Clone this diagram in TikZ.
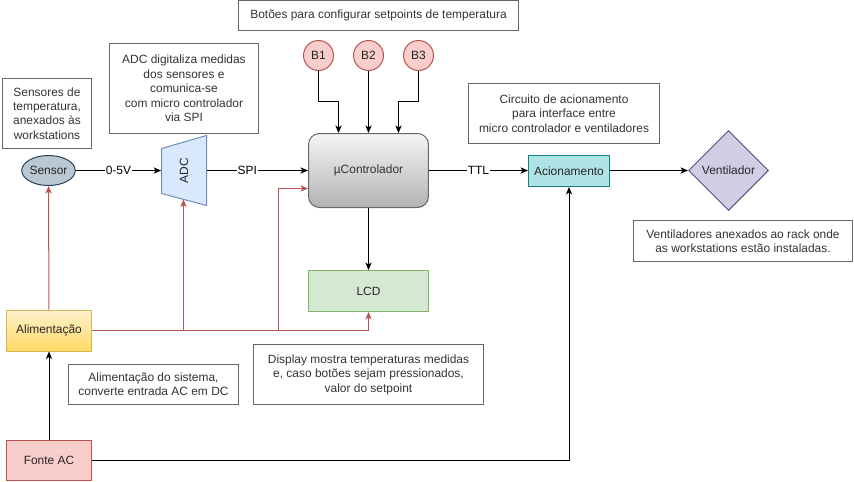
\documentclass[tikz,border=0pt]{standalone}
\usepackage{fontspec}
\setmainfont{Liberation Sans}
\usepackage{graphicx}
\usetikzlibrary{arrows.meta,positioning,calc,shapes.geometric}
\definecolor{notegray}{HTML}{666666}
\definecolor{notetext}{HTML}{333333}
\definecolor{redline}{HTML}{B85450}
\definecolor{redfill}{HTML}{F8CECC}
\definecolor{sensfill}{HTML}{BAC8D3}
\definecolor{sensline}{HTML}{23445D}
\definecolor{adcfill}{HTML}{DAE8FC}
\definecolor{adcline}{HTML}{6C8EBF}
\definecolor{acfill}{HTML}{B0E3E6}
\definecolor{acline}{HTML}{0E8088}
\definecolor{ventfill}{HTML}{D0CEE2}
\definecolor{ventline}{HTML}{56517E}
\definecolor{lcdfill}{HTML}{D5E8D4}
\definecolor{lcdline}{HTML}{82B366}
\definecolor{alimtop}{HTML}{FFF2CC}
\definecolor{alimbot}{HTML}{FFD966}
\definecolor{alimline}{HTML}{D6B656}
\tikzset{
every node/.style={font=\fontsize{6.8}{8.2}\selectfont, inner sep=0pt}, % drawio 12px text
note/.style={draw=notegray, fill=white, text=notetext, align=center, line width=0.57pt},
block/.style={draw, line width=0.57pt, align=center, text=black!85},
wire/.style={-{Stealth[length=1.5mm,width=1.25mm,inset=0.4mm]}, line width=0.57pt},
power/.style={wire, draw=redline},
lbl/.style={fill=white, inner sep=0.5pt},
}
\begin{document}
\begin{tikzpicture}[x=0.02cm,y=-0.02cm]
   \useasboundingbox (-0.5,-0.5) rectangle (853.5,480.5);
   % notes
   \node[note, minimum width=5.6cm, minimum height=0.6cm] (n_btn) at (378,15) {Botões para configurar setpoints de temperatura};
   \node[note, minimum width=1.78cm, minimum height=1.4cm] (n_sens) at (46.5,113) {Sensores de\\temperatura,\\anexados às\\workstations};
   \node[note, minimum width=2.98cm, minimum height=1.8cm] (n_adc) at (183.5,88) {ADC digitaliza medidas\\dos sensores e\\comunica-se\\com micro controlador\\via SPI};
   \node[note, minimum width=3.82cm, minimum height=1.2cm] (n_ac) at (563.5,113) {Circuito de acionamento\\para interface entre\\micro controlador e ventiladores};
   \node[note, minimum width=4.38cm, minimum height=0.82cm] (n_vent) at (742.5,240.5) {Ventiladores anexados ao rack onde\\as workstations estão instaladas.};
   \node[note, minimum width=3.4cm, minimum height=0.8cm] (n_alim) at (153,384) {Alimentação do sistema,\\converte entrada AC em DC};
   \node[note, minimum width=4.6cm, minimum height=1.2cm] (n_lcd) at (368,374) {Display mostra temperaturas medidas\\e, caso botões sejam pressionados,\\valor do setpoint};
   % blocks
   \node[block, ellipse, draw=sensline, fill=sensfill, minimum width=0.96cm, minimum height=0.6cm] (sensor) at (48,170) {Sensor};
   \draw[line width=0.57pt, draw=adcline, fill=adcfill] (161,148) -- (206,135) -- (206,205) -- (161,193) -- cycle;
   \node[text=black!85, minimum width=0.9cm, minimum height=1.4cm] (adc) at (183.5,170) {\rotatebox{90}{ADC}};
   \coordinate (adcfoot) at (183,199);
   \node[block, draw=notegray, text=notetext, rounded corners=0.22cm, top color=black!4, bottom color=black!30, minimum width=2.4cm, minimum height=1.48cm] (uc) at (368,170) {µControlador};
   \foreach \i/\x in {1/318,2/368,3/418}
      \node[block, circle, draw=redline, fill=redfill, minimum size=0.6cm] (b\i) at (\x,55) {B\i};
   \node[block, draw=acline, fill=acfill, minimum width=1.62cm, minimum height=0.62cm] (acion) at (568.5,170.5) {Acionamento};
   \node[block, diamond, draw=ventline, fill=ventfill, minimum width=1.6cm, minimum height=1.6cm] (vent) at (728,170) {Ventilador};
   \node[block, draw=lcdline, fill=lcdfill, minimum width=2.4cm, minimum height=0.82cm] (lcd) at (368,290.5) {LCD};
   \node[block, draw=alimline, top color=alimtop, bottom color=alimbot, minimum width=1.7cm, minimum height=0.82cm] (alim) at (48.5,330) {Alimentação};
   \node[block, draw=redline, fill=redfill, minimum width=1.7cm, minimum height=0.8cm] (fonte) at (48.5,460) {Fonte AC};
   \coordinate (uctap) at ([yshift=-0.36cm]uc.west);
   \coordinate (tap_adc) at (adcfoot |- alim.east);
   \coordinate (tap_uc) at ([xshift=3.74cm]alim.east);
   % signals
   \draw[wire] (sensor) -- node[lbl] {0-5V} (adc.west);
   \draw[wire] (adc.east) -- node[lbl, pos=0.4] {SPI} (uc.west);
   \draw[wire] (b1.south) -- ++(0,30) -| ([xshift=-0.6cm]uc.north);
   \draw[wire] (b2) -- (uc);
   \draw[wire] (b3.south) -- ++(0,30) -| ([xshift=0.6cm]uc.north);
   \draw[wire] (uc.east) -- node[lbl] {TTL} (acion.west |- uc.east);
   \draw[wire] (acion.east |- vent) -- (vent);
   \draw[wire] (uc) -- (lcd);
   \draw[wire] (fonte) -- (alim);
   \draw[wire] (fonte.east) -| (acion.south);
   % power
   \draw[power] (alim) -- (sensor);
   \draw[power] (alim.east) -| (lcd.south);
   \draw[power] (tap_adc) -- (adcfoot);
   \draw[power] (tap_uc) |- (uctap);
\end{tikzpicture}
\end{document}
